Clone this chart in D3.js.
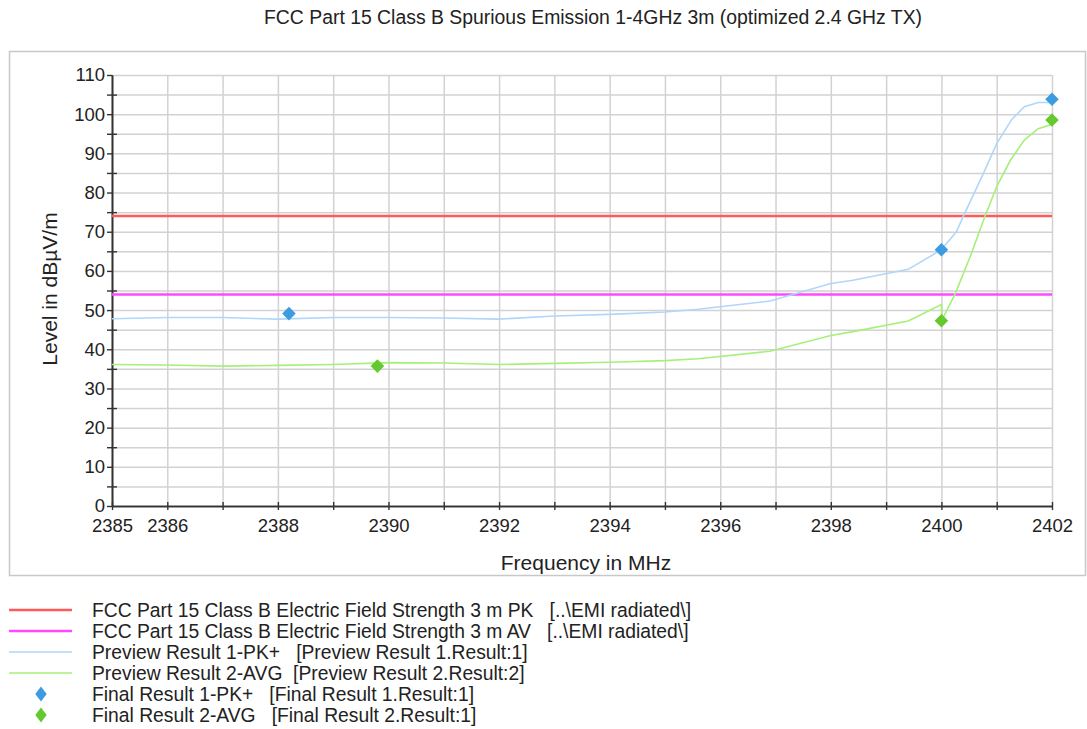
<!DOCTYPE html>
<html>
<head>
<meta charset="utf-8">
<script src="https://cdn.jsdelivr.net/npm/d3@7"></script>
<style>
  body { margin: 0; background: #fff; }
  svg { font-family: "Liberation Sans", Arial, sans-serif; }
  .grid line { stroke: #d2d2d2; stroke-width: 1.5; }
  .grid .domain { display: none; }
  .axis .domain, .axis line { stroke: #333; stroke-width: 1.4; }
  .axis text { fill: #222; font-size: 18.5px; }
</style>
</head>
<body>
<script>
// preview result 1 (PK+)
let pkFreq  = [2385, 2386, 2387, 2388, 2389, 2390, 2391, 2392, 2393, 2394, 2395, 2395.6, 2396.9, 2398, 2398.4, 2399.4, 2400, 2400.27, 2400.42, 2400.76, 2401, 2401.27, 2401.5, 2401.75, 2402];
let pkLevel = [47.8, 48.1, 48.1, 47.7, 48.1, 48.1, 48.0, 47.7, 48.5, 48.9, 49.5, 50.2, 52.3, 56.8, 57.6, 60.4, 65.4, 70.0, 74.7, 84.9, 92.5, 98.6, 101.9, 103.0, 103.0];

// preview result 2 (AVG)
let avFreq  = [2385, 2386, 2387, 2388, 2389, 2390, 2391, 2392, 2393, 2394, 2395, 2395.6, 2396.9, 2398, 2398.4, 2399.4, 2400, 2400.01, 2400.25, 2400.52, 2400.79, 2401, 2401.25, 2401.5, 2401.75, 2402];
let avLevel = [36.1, 36.0, 35.7, 35.9, 36.1, 36.6, 36.5, 36.1, 36.4, 36.7, 37.1, 37.6, 39.5, 43.5, 44.5, 47.2, 51.4, 47.5, 54.2, 63.6, 74.0, 81.5, 88.3, 93.4, 96.3, 97.4];

// final results
let finalPkFreq  = [2388.2, 2400, 2402];
let finalPkLevel = [49.1, 65.4, 103.8];
let finalAvFreq  = [2389.8, 2400, 2402];
let finalAvLevel = [35.7, 47.3, 98.5];

// limit lines
let limitFreq    = [2385, 2402];
let limitPkLevel = [74, 74];
let limitAvLevel = [54, 54];

// axis ticks
let xTickLabels = [2385, 2386, 2388, 2390, 2392, 2394, 2396, 2398, 2400, 2402];
let yTickLabels = [0, 10, 20, 30, 40, 50, 60, 70, 80, 90, 100, 110];

let legendNames = [
  "FCC Part 15 Class B Electric Field Strength 3 m PK   [..\\EMI radiated\\]",
  "FCC Part 15 Class B Electric Field Strength 3 m AV   [..\\EMI radiated\\]",
  "Preview Result 1-PK+   [Preview Result 1.Result:1]",
  "Preview Result 2-AVG  [Preview Result 2.Result:2]",
  "Final Result 1-PK+   [Final Result 1.Result:1]",
  "Final Result 2-AVG   [Final Result 2.Result:1]"
];

let svgContainer = "";

window.onload = function() {
  svgContainer = d3.select('body').append('svg')
    .attr('width', 1087)
    .attr('height', 729);

  // outer frame of the chart area
  svgContainer.append('rect')
    .attr('x', 9.5).attr('y', 51.5)
    .attr('width', 1076).attr('height', 524)
    .attr('fill', 'none')
    .attr('stroke', '#c8c8c8')
    .attr('stroke-width', 1.5);

  svgContainer.append('text')
    .attr('x', 593).attr('y', 24)
    .style('text-anchor', 'middle')
    .style('font-size', '19.4px')
    .attr('fill', '#222')
    .text('FCC Part 15 Class B Spurious Emission 1-4GHz 3m (optimized 2.4 GHz TX)');

  let maps = drawAxes();
  plotData(maps);
  drawLegend();
}

function drawAxes() {
  let left = 112, right = 1052, top = 75, bottom = 506;

  let xScale = d3.scaleLinear().domain([2385, 2402]).range([left, right]);
  let yScale = d3.scaleLinear().domain([0, 110]).range([bottom, top]);

  // grid
  svgContainer.append('g')
    .attr('class', 'grid')
    .attr('transform', `translate(${left}, 0)`)
    .call(d3.axisLeft(yScale).tickValues(d3.range(0, 111, 5)).tickSize(-(right - left)).tickFormat(''));
  svgContainer.append('g')
    .attr('class', 'grid')
    .attr('transform', `translate(0, ${bottom})`)
    .call(d3.axisBottom(xScale).tickValues(d3.range(2385, 2403, 1)).tickSize(-(bottom - top)).tickFormat(''));

  // y axis, majors to the left, minors crossing
  svgContainer.append('g')
    .attr('class', 'axis')
    .attr('transform', `translate(${left}, 0)`)
    .call(d3.axisLeft(yScale).tickValues(yTickLabels).tickSize(5).tickSizeOuter(0).tickPadding(2));
  svgContainer.append('g')
    .attr('class', 'axis')
    .attr('transform', `translate(${left}, 0)`)
    .call(d3.axisLeft(yScale).tickValues(d3.range(5, 110, 10)).tickSize(5).tickSizeOuter(0).tickFormat(''));
  svgContainer.append('g')
    .attr('class', 'axis')
    .attr('transform', `translate(${left}, 0)`)
    .call(d3.axisRight(yScale).tickValues(d3.range(5, 110, 10)).tickSize(5).tickSizeOuter(0).tickFormat(''));

  // x axis, ticks every MHz crossing the line
  svgContainer.append('g')
    .attr('class', 'axis')
    .attr('transform', `translate(0, ${bottom})`)
    .call(d3.axisBottom(xScale).tickValues(d3.range(2385, 2403, 1)).tickSize(4).tickSizeOuter(0).tickPadding(9)
      .tickFormat((d) => xTickLabels.includes(d) ? d : ''));
  svgContainer.append('g')
    .attr('class', 'axis')
    .attr('transform', `translate(0, ${bottom})`)
    .call(d3.axisTop(xScale).tickValues(d3.range(2385, 2403, 1)).tickSize(4).tickSizeOuter(0).tickFormat(''));

  svgContainer.append('text')
    .attr('x', 586).attr('y', 570)
    .style('text-anchor', 'middle')
    .style('font-size', '21px')
    .attr('fill', '#222')
    .text('Frequency in MHz');

  svgContainer.append('text')
    .attr('transform', 'translate(57, 289)rotate(-90)')
    .style('text-anchor', 'middle')
    .style('font-size', '21px')
    .attr('fill', '#222')
    .text('Level in dBµV/m');

  return { x: xScale, y: yScale };
}

function plotData(map) {
  let line = d3.line()
    .x((d) => map.x(d[0]))
    .y((d) => map.y(d[1]));

  svgContainer.append('path')
    .datum(d3.zip(limitFreq, limitPkLevel))
    .attr('d', line)
    .attr('fill', 'none')
    .attr('stroke', '#ff5a5a')
    .attr('stroke-width', 2.5);

  svgContainer.append('path')
    .datum(d3.zip(limitFreq, limitAvLevel))
    .attr('d', line)
    .attr('fill', 'none')
    .attr('stroke', '#ff48ff')
    .attr('stroke-width', 2.5);

  svgContainer.append('path')
    .datum(d3.zip(pkFreq, pkLevel))
    .attr('d', line)
    .attr('fill', 'none')
    .attr('stroke', '#b0d6fa')
    .attr('stroke-width', 1.6);

  svgContainer.append('path')
    .datum(d3.zip(avFreq, avLevel))
    .attr('d', line)
    .attr('fill', 'none')
    .attr('stroke', '#a6f07a')
    .attr('stroke-width', 1.6);

  let diamond = d3.symbol(d3.symbolSquare, 92);

  svgContainer.selectAll('.pkdot')
    .data(d3.zip(finalPkFreq, finalPkLevel))
    .enter()
    .append('path')
      .attr('d', diamond)
      .attr('transform', (d) => `translate(${map.x(d[0])}, ${map.y(d[1])})rotate(45)`)
      .attr('fill', '#3d9be0');

  svgContainer.selectAll('.avdot')
    .data(d3.zip(finalAvFreq, finalAvLevel))
    .enter()
    .append('path')
      .attr('d', diamond)
      .attr('transform', (d) => `translate(${map.x(d[0])}, ${map.y(d[1])})rotate(45)`)
      .attr('fill', '#63c92f');
}

function drawLegend() {
  let colors = ['#ff5a5a', '#ff48ff', '#b0d6fa', '#a6f07a', '#3d9be0', '#63c92f'];
  let widths = [2.5, 2.5, 1.6, 1.6];
  let rowY = (i) => 610 + i * 21;

  legendNames.forEach((name, i) => {
    if (i < 4) {
      svgContainer.append('line')
        .attr('x1', 9).attr('x2', 72)
        .attr('y1', rowY(i)).attr('y2', rowY(i))
        .attr('stroke', colors[i])
        .attr('stroke-width', widths[i]);
    } else {
      svgContainer.append('path')
        .attr('d', d3.symbol(d3.symbolSquare, 96))
        .attr('transform', `translate(41, ${rowY(i)})scale(0.82, 1.1)rotate(45)`)
        .attr('fill', colors[i]);
    }
    svgContainer.append('text')
      .attr('x', 92).attr('y', rowY(i))
      .attr('dy', '0.35em')
      .style('font-size', '19.3px')
      .style('white-space', 'pre')
      .attr('fill', '#222')
      .text(name);
  });
}
</script>
</body>
</html>
